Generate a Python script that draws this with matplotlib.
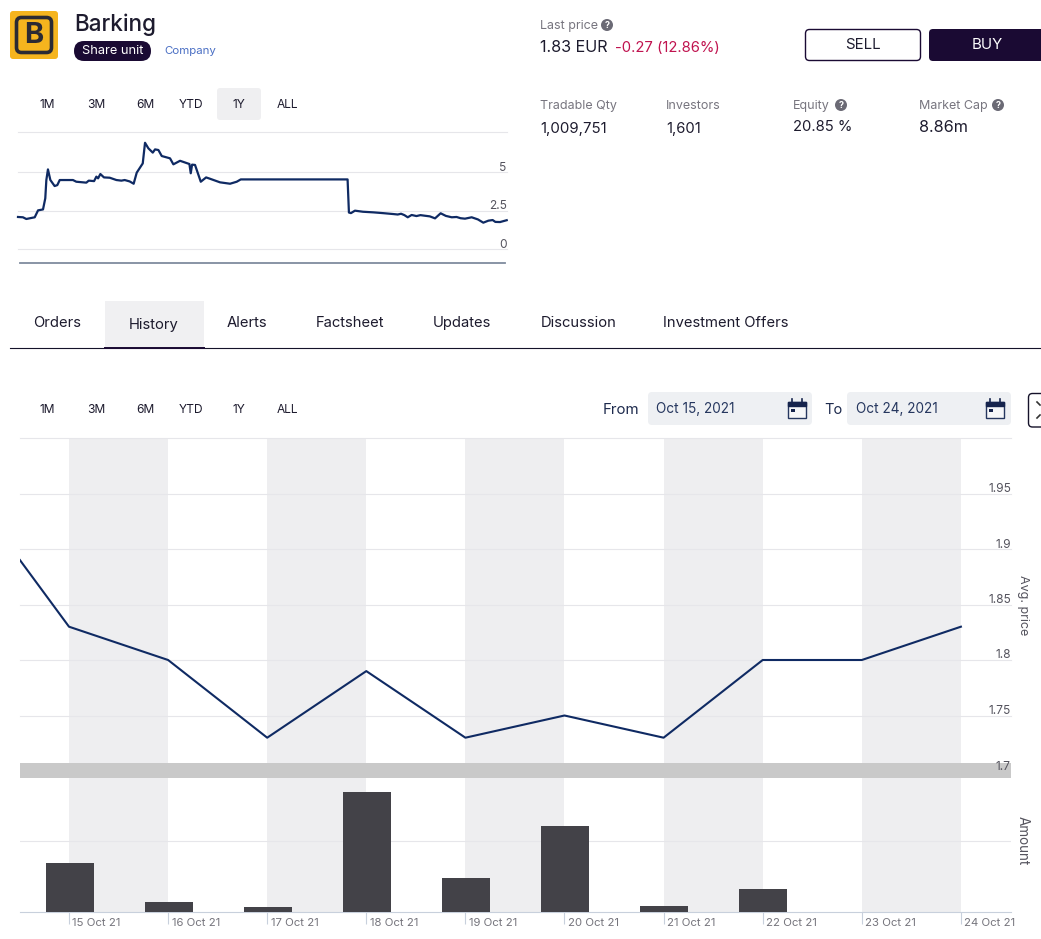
import matplotlib
matplotlib.use('Agg')
import matplotlib.pyplot as plt
from matplotlib.patches import FancyBboxPatch, Rectangle, Circle
from matplotlib.transforms import ScaledTranslation

plt.rcParams['font.family'] = ['Inter', 'DejaVu Sans']

W, H = 1041, 939

# year chart at the top, x in days
mini_days = [0, 3.7, 6.2, 12.5, 15, 18.7, 20.4, 21.2, 22.4, 24.2, 27.4, 29.4, 31.2, 41.1, 43.6, 51.1, 52.9, 56.9,
             58.6, 59.9, 61.6, 64.3, 68.6, 73.6, 77.3, 79.8, 83.5, 86.5, 88.8, 93.3, 95, 97.5, 100.8, 102.5, 105,
             107.5, 113.7, 116.2, 121.2, 128.2, 129.2, 130.2, 132.4, 136.7, 140.7, 143.7, 151.1, 158.6, 163.6,
             166.6, 246.5, 247.5, 249, 252, 258, 265.8, 273, 280.7, 284, 286.5, 289, 291.5, 294.4, 298, 301,
             304.4, 308, 311.9, 316.1, 320, 324.4, 328, 331, 334.3, 339.3, 344, 348, 351.8, 355, 357, 360.5, 365.5]
mini_price = [2.08, 2.06, 1.95, 2.06, 2.51, 2.57, 3.29, 4.48, 5.17, 4.48, 4.09, 4.15, 4.48, 4.48, 4.37, 4.31, 4.44,
              4.41, 4.70, 4.59, 4.87, 4.65, 4.63, 4.48, 4.44, 4.48, 4.39, 4.24, 4.96, 5.56, 6.9, 6.54, 6.26, 6.47,
              6.43, 6.04, 5.89, 5.5, 5.73, 5.52, 4.92, 5.48, 5.46, 4.37, 4.65, 4.56, 4.33, 4.24, 4.37, 4.52, 4.52,
              2.37, 2.33, 2.49, 2.42, 2.38, 2.33, 2.27, 2.24, 2.29, 2.2, 2.06, 2.21, 2.14, 2.2, 2.16, 2.12, 1.99,
              2.32, 2.15, 2.06, 2.08, 2.0, 1.97, 2.06, 1.92, 1.71, 1.84, 1.88, 1.76, 1.75, 1.87]
mini_ticks = [0, 2.5, 5, 7.6]
mini_ticklabels = ['0', '2.5', '5', '']

# history chart, x in days after 15 Oct
day_labels = ['15 Oct 21', '16 Oct 21', '17 Oct 21', '18 Oct 21', '19 Oct 21',
              '20 Oct 21', '21 Oct 21', '22 Oct 21', '23 Oct 21', '24 Oct 21']
avg_days = [-0.495, 0, 1, 2, 3, 4, 5, 6, 7, 8, 9]
avg_price = [1.89, 1.83, 1.80, 1.73, 1.79, 1.73, 1.75, 1.73, 1.80, 1.80, 1.83]
price_ticks = [1.7, 1.75, 1.8, 1.85, 1.9, 1.95, 2.0]
price_ticklabels = ['1.7', '1.75', '1.8', '1.85', '1.9', '1.95', '']
bar_days = [0, 1, 2, 3, 4, 5, 6, 7]
bar_amount = [0.69, 0.14, 0.07, 1.69, 0.48, 1.21, 0.085, 0.32]
shaded_days = [0, 2, 4, 6, 8]

range_buttons = ['1M', '3M', '6M', 'YTD', '1Y', 'ALL']
range_x = [47, 96, 145, 191, 239, 287]
tabs = ['Orders', 'History', 'Alerts', 'Factsheet', 'Updates', 'Discussion', 'Investment Offers']
tabs_x = [33, 129, 227, 316, 433, 541, 663]

NAVY = '#0f2a63'
DARK = '#1a0a33'
INK = '#1d1b2e'
GRAY = '#77757f'
GRID = '#e6e6ea'
BAND = '#eeeef0'


def px_axes(x0, y0, x1, y1, **kw):
    return fig.add_axes([x0 / W, 1 - y1 / H, (x1 - x0) / W, (y1 - y0) / H], **kw)


def rbox(x0, y0, x1, y1, r, fc, ec='none', lw=1, **kw):
    ui.add_patch(FancyBboxPatch((x0, y0), x1 - x0, y1 - y0, boxstyle=f'round,pad=0,rounding_size={r}',
                                fc=fc, ec=ec, lw=lw, **kw))


def label(x, y, s, px=13, color=INK, ha='left', **kw):
    ui.text(x, y + 2, s, fontsize=px * 0.72, color=color, ha=ha, va='center', **kw)


def help_icon(x, y):
    ui.add_patch(Circle((x, y), 6, fc='#6b6a75', ec='none'))
    ui.text(x, y + 0.3, '?', color='white', fontsize=6.5, fontweight='bold', ha='center', va='center')


def calendar(x, y):
    ui.add_patch(Rectangle((x - 9, y - 7), 18, 16, fc='#f6f7f9', ec='#26375f', lw=1))
    ui.add_patch(Rectangle((x - 9, y - 7), 18, 4, fc='#16244d', ec='#16244d', lw=1))
    ui.add_patch(Rectangle((x - 6, y), 3.5, 3, fc='#16244d', ec='none'))
    ui.plot([x - 5, x - 5], [y - 10, y - 6], color='#16244d', lw=1.2)
    ui.plot([x + 5, x + 5], [y - 10, y - 6], color='#16244d', lw=1.2)


def right_labels(ax, ticks, labels, size):
    ax.yaxis.tick_right()
    ax.set_yticks(ticks)
    ax.set_yticklabels(labels, ha='right', va='bottom', fontsize=size, color='#55545e')
    ax.tick_params(axis='y', length=0, pad=0)
    ax.grid(axis='y', color=GRID, lw=0.8)
    down = ScaledTranslation(0, -1.5 / 100, fig.dpi_scale_trans)
    for t in ax.get_yticklabels():
        t.set_transform(t.get_transform() + down)
    for g in ax.get_ygridlines():
        g.set_clip_on(False)


fig = plt.figure(figsize=(W / 100, H / 100), dpi=100, facecolor='white')

ui = px_axes(0, 0, W, H, zorder=5)
ui.set_xlim(0, W)
ui.set_ylim(H, 0)
ui.axis('off')

# header
rbox(10, 11, 58, 59, 3, '#f5b41e')
rbox(16.5, 17.5, 51.5, 52.5, 5, 'none', ec='#2b2a33', lw=2.6)
ui.text(34, 35.5, 'B', fontsize=21, fontweight='bold', color='#2b2a33', ha='center', va='center')
label(74, 22.5, 'Barking', 22.5, fontweight='medium')
rbox(74, 41, 151, 61, 10, DARK)
label(112.5, 49.5, 'Share unit', 12.8, color='white', ha='center')
label(164, 49.5, 'Company', 11.5, color='#4a6fc4')

label(540, 24, 'Last price', 12.5, color=GRAY)
help_icon(607, 25)
label(540, 46, '1.83 EUR', 16.2)
label(615, 46, '-0.27 (12.86%)', 14.8, color='#c0134f')
rbox(805.5, 29.5, 920.5, 60.5, 4, 'white', ec=DARK, lw=1)
label(863, 43, 'SELL', 15, ha='center')
rbox(929, 29, 1060, 61, 4, DARK)
label(987, 43, 'BUY', 15, color='white', ha='center')

label(540, 104, 'Tradable Qty', 12.5, color=GRAY)
label(666, 104, 'Investors', 12.5, color=GRAY)
label(793, 104, 'Equity', 12.5, color=GRAY)
help_icon(841, 105)
label(919, 104, 'Market Cap', 12.5, color=GRAY)
help_icon(998, 105)
label(540, 127, '1,009,751', 15)
label(666, 127, '1,601', 14.8)
label(793, 125, '20.85 %', 14.8)
label(919, 125, '8.86m', 16.2)

# range buttons, both rows
rbox(217, 88, 261, 120, 3, '#efeff1')
for name, x in zip(range_buttons, range_x):
    label(x, 102.8, name, 12, ha='center')
    label(x, 407.8, name, 12, ha='center')

# tabs
ui.add_patch(Rectangle((105, 301), 99, 47, fc='#f0f0f2', ec='none'))
ui.plot([10, W], [348, 348], color='#15122a', lw=0.8)
ui.plot([105, 204], [347.5, 347.5], color=DARK, lw=1.4)
for name, x in zip(tabs, tabs_x):
    label(x, 323.2 if name == 'History' else 321.2, name, 14.8)

# date filter
label(603, 407.5, 'From', 15, color='#1d2a4d')
rbox(648, 392, 812, 425, 4, '#eef0f3')
label(656, 407, 'Oct 15, 2021', 13.6, color='#26375f')
calendar(797, 409)
label(824, 407.5, 'To', 14.5, color='#1d2a4d')
rbox(847, 392, 1011, 425, 4, '#eef0f3')
label(856, 407, 'Oct 24, 2021', 13.6, color='#26375f')
calendar(995, 409)
rbox(1028.5, 393.5, 1060, 427, 4, 'white', ec='#15122a', lw=1)
ui.plot([1037, 1040], [402, 405], color='#333', lw=1.2)
ui.plot([1037, 1040], [418, 415], color='#333', lw=1.2)

label(1023, 603, 'Avg. price', 12.5, color='#55545e', ha='center', rotation=270)
label(1023, 839, 'Amount', 13.5, color='#55545e', ha='center', rotation=270)

# year chart
ax_mini = px_axes(18, 132, 506.7, 249)
ax_mini.set_xlim(0, 365.5)
ax_mini.set_ylim(0, 7.6)
ax_mini.plot(mini_days, mini_price, color=NAVY, lw=1.6, solid_joinstyle='round', clip_on=False)
right_labels(ax_mini, mini_ticks, mini_ticklabels, 8.6)
ax_mini.set_xticks([])
for s in ax_mini.spines.values():
    s.set_visible(False)
ui.plot([20, 505], [263, 263], color='#7f8b9e', lw=1.3)

# x is in days, 99.1 px per day with 15 Oct at x=69
x_left = -49 / 99.1
x_right = (1011 - 69) / 99.1

ax_bars = px_axes(20, 778, 1011, 912)
ax_bars.set_xlim(x_left, x_right)
ax_bars.set_ylim(0, 134 / 71)
for d in shaded_days:
    ax_bars.axvspan(d, d + 1, color=BAND, lw=0)
ax_bars.bar([d + 0.007 for d in bar_days], bar_amount, width=48 / 99.1, color='#434248', zorder=3)
ax_bars.set_yticks([1])
ax_bars.set_yticklabels([])
ax_bars.tick_params(axis='y', length=0)
ax_bars.grid(axis='y', color=GRID, lw=0.8)
ax_bars.set_xticks(range(len(day_labels)))
ax_bars.set_xticklabels(day_labels, ha='left', fontsize=8.2, color='#75747c')
ax_bars.tick_params(axis='x', length=8.5, width=0.8, color='#c8d0dc', pad=-4.4)
shift = ScaledTranslation(3.5 / 100, 0, fig.dpi_scale_trans)
for t in ax_bars.get_xticklabels():
    t.set_transform(t.get_transform() + shift)
    t.set_clip_on(False)
for name, s in ax_bars.spines.items():
    s.set_visible(name == 'bottom')
ax_bars.spines['bottom'].set_color('#c8d0dc')

ax_price = px_axes(20, 438, 1011, 771)
ax_price.set_xlim(x_left, x_right)
ax_price.set_ylim(1.7, 2.0)
for d in shaded_days:
    ax_price.axvspan(d, d + 1, color=BAND, lw=0)
ax_price.plot(avg_days, avg_price, color=NAVY, lw=1.5, zorder=3)
right_labels(ax_price, price_ticks, price_ticklabels, 8.6)
ax_price.get_ygridlines()[0].set_visible(False)
ax_price.set_xticks([])
for s in ax_price.spines.values():
    s.set_visible(False)
# grey navigator band between the two panels, under the tick labels
ax_price.add_patch(Rectangle((0, -7 / 333), 1, 15 / 333, transform=ax_price.transAxes,
                             fc='#c9c9c9', ec='none', clip_on=False, zorder=1.2))

fig.savefig('out.png', dpi=100)
